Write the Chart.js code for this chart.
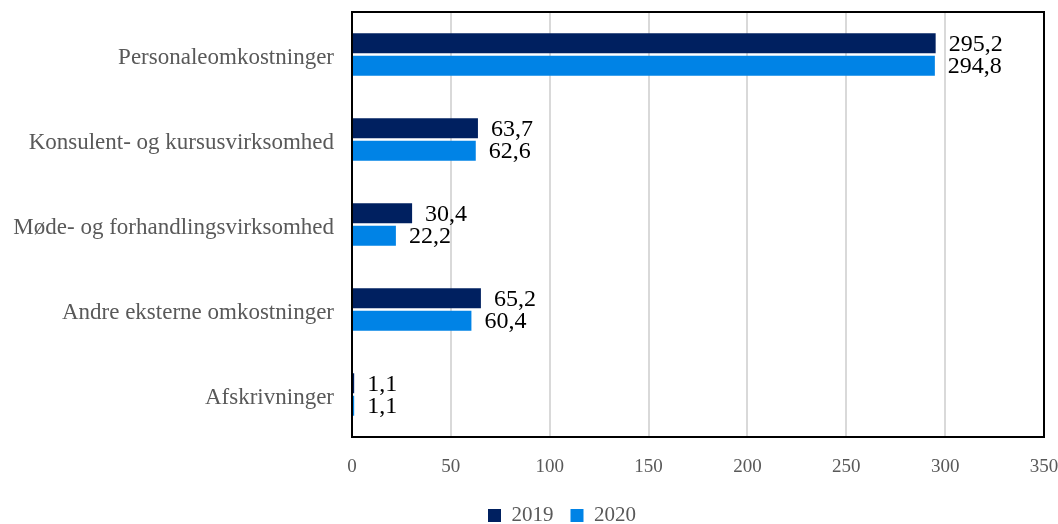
<!DOCTYPE html>
<html>
<head>
<meta charset="utf-8">
<script src="https://cdn.jsdelivr.net/npm/chart.js@4"></script>
<style>
html,body{margin:0;padding:0;background:#fff;}
#wrap{width:1058px;height:524px;position:relative;}
</style>
</head>
<body>
<div id="wrap"><canvas id="c"></canvas></div>
<script>
const categories = ["Personaleomkostninger", "Konsulent- og kursusvirksomhed", "Møde- og forhandlingsvirksomhed", "Andre eksterne omkostninger", "Afskrivninger"];
const seriesNames = ["2019", "2020"];
const values2019 = [295.2, 63.7, 30.4, 65.2, 1.1];
const values2020 = [294.8, 62.6, 22.2, 60.4, 1.1];
const xTicks = [0, 50, 100, 150, 200, 250, 300, 350];

const FONT = "'Liberation Serif', 'DejaVu Serif', serif";

const borderPlugin = {
  id: 'plotBorder',
  afterLayout(chart) {
    const lg = chart.legend;
    if (lg) { lg.left += 40; lg.right += 40; }
  },
  afterDatasetsDraw(chart) {
    const {ctx, chartArea: a} = chart;
    ctx.save();
    ctx.strokeStyle = '#000';
    ctx.lineWidth = 2;
    ctx.strokeRect(a.left, a.top, a.right - a.left, a.bottom - a.top);
    ctx.restore();
  }
};

const valueLabels = {
  id: 'valueLabels',
  afterDatasetsDraw(chart) {
    const {ctx} = chart;
    ctx.save();
    ctx.font = "24px " + FONT;
    ctx.fillStyle = '#000';
    ctx.textAlign = 'left';
    ctx.textBaseline = 'middle';
    chart.data.datasets.forEach((ds, di) => {
      const meta = chart.getDatasetMeta(di);
      meta.data.forEach((el, i) => {
        const txt = ds.data[i].toFixed(1).replace('.', ',');
        ctx.fillText(txt, el.x + 13, el.y + 1);
      });
    });
    ctx.restore();
  }
};

function zeroPad(axis) {
  axis.paddingTop = 0; axis.paddingBottom = 0;
  axis.paddingLeft = 0; axis.paddingRight = 0;
}

new Chart(document.getElementById('c'), {
  type: 'bar',
  data: {
    labels: categories,
    datasets: [
      { label: seriesNames[0], data: values2019, backgroundColor: '#002060', borderWidth: 0 },
      { label: seriesNames[1], data: values2020, backgroundColor: '#0083E6', borderWidth: 0 }
    ]
  },
  options: {
    indexAxis: 'y',
    responsive: true,
    maintainAspectRatio: false,
    animation: false,
    devicePixelRatio: 1,
    categoryPercentage: 0.53,
    barPercentage: 0.89,
    layout: { padding: { top: 12, right: 14, left: 0, bottom: -12 } },
    scales: {
      x: {
        min: 0, max: 350,
        afterBuildTicks(axis) { axis.ticks = xTicks.map(v => ({value: v})); },
        afterFit(axis) { zeroPad(axis); axis.height = 51; },
        grid: { color: '#D9D9D9', lineWidth: 2, drawTicks: false },
        border: { display: false },
        ticks: { color: '#595959', font: { family: FONT, size: 19 }, padding: 19 }
      },
      y: {
        grid: { display: false, drawTicks: false },
        border: { display: false },
        afterFit(axis) { zeroPad(axis); axis.width = 352; },
        ticks: { color: '#595959', font: { family: FONT, size: 23 }, padding: 18, labelOffset: 3 }
      }
    },
    plugins: {
      legend: {
        position: 'bottom',
        labels: { color: '#595959', font: { family: FONT, size: 21 }, boxWidth: 13, boxHeight: 13, padding: 17 }
      },
      tooltip: { enabled: false }
    }
  },
  plugins: [borderPlugin, valueLabels]
});
</script>
</body>
</html>
